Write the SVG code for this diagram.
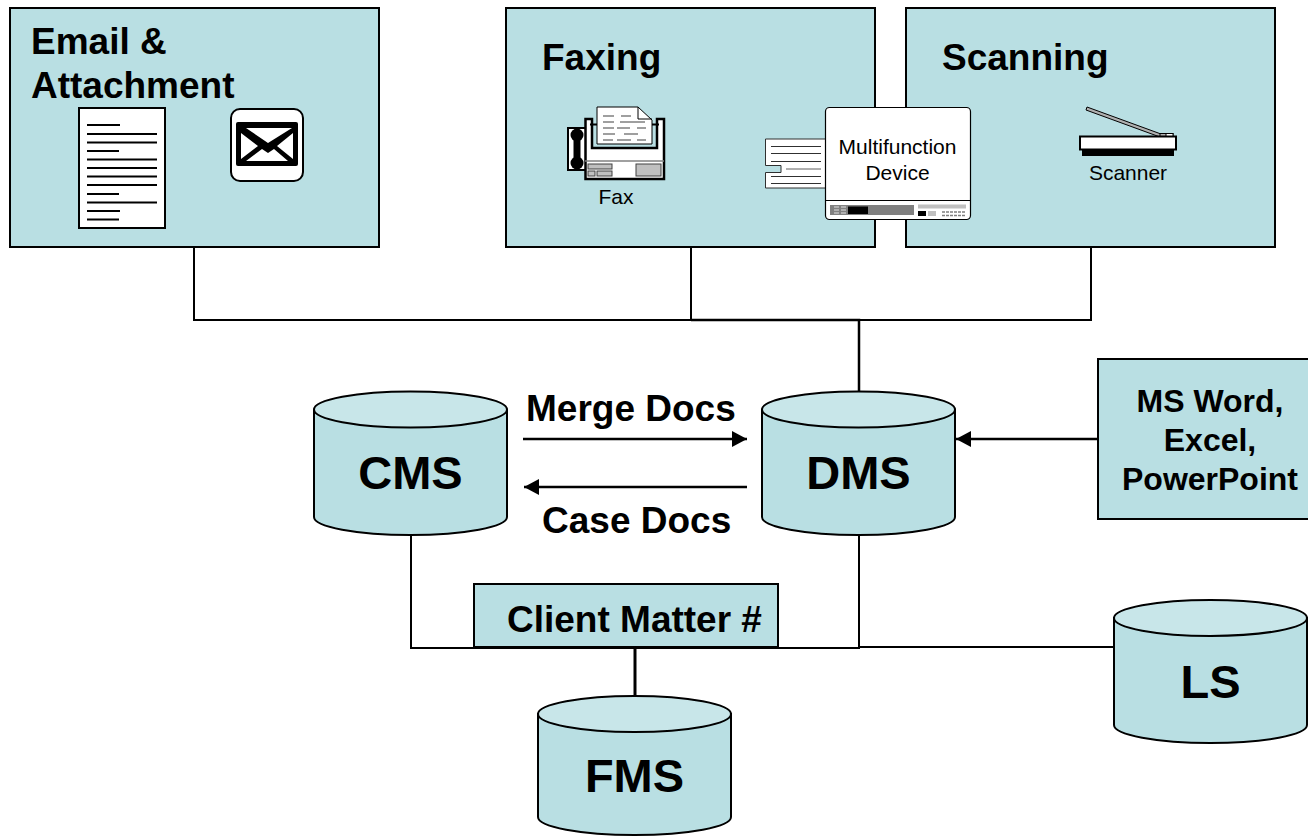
<svg xmlns="http://www.w3.org/2000/svg" width="1308" height="837" viewBox="0 0 1308 837">
<style>
text{font-family:"Liberation Sans",Arial,sans-serif;fill:#000}
.b{font-weight:bold;font-size:37px}
.c{font-weight:bold;font-size:47px;text-anchor:middle}
.m{font-weight:bold;font-size:32px;text-anchor:middle}
.s{font-size:21px;text-anchor:middle}
.box{fill:#b9dfe3;stroke:#000;stroke-width:2}
.top{fill:#c8e6e9;stroke:#000;stroke-width:2}
.ln{fill:none;stroke:#000;stroke-width:2}
.h{fill:none;stroke:#000;stroke-width:3}
.g{fill:none;stroke:#808080;stroke-width:1.5}
.w{fill:#fff;stroke:#000;stroke-width:2}
</style>
<defs>
<marker id="ah" markerUnits="userSpaceOnUse" markerWidth="16" markerHeight="16" refX="15" refY="8" orient="auto"><path d="M0 0L15 8L0 16z" fill="#000"/></marker>
</defs>
<g id="connectors">
<path class="ln" d="M194 247V320H1091V247M691 247V320"/>
<path class="h" d="M691 320H859V392" style="stroke-width:2.5"/>
<path class="ln" d="M411 534V648H859V534M859 647H1115"/>
<path class="h" d="M635 648V696"/>
<path class="ln" style="stroke-width:2.5" d="M523 439H747" marker-end="url(#ah)"/>
<path class="ln" style="stroke-width:2.5" d="M747 487H524" marker-end="url(#ah)"/>
<path class="ln" style="stroke-width:2.5" d="M1098 439H956" marker-end="url(#ah)"/>
</g>
<g id="email">
<rect class="box" x="10" y="8" width="369" height="239"/>
<text class="b" x="31" y="54">Email &amp;</text>
<text class="b" x="31" y="98">Attachment</text>
<rect class="w" x="79" y="108" width="86" height="120"/>
<path d="M87 125h33M87 134h70M87 142.500h70M87 151h32M87 159.500h70M87 168h70M87 176.500h70M87 185h70M87 194h32M87 202.500h70M87 211h33M87 219.500h32" fill="none" stroke="#000" stroke-width="2"/>
<rect x="231" y="109" width="72" height="72" rx="9" fill="#fff" stroke="#000" stroke-width="2"/>
<rect x="236" y="122" width="62" height="44" rx="2" fill="#000"/>
<path d="M246 128H292L268 143zM241 133L258 146L241 159zM293 133L277 146L293 159zM246 161L262 149L268 153L274 149L288 161z" fill="#fff"/>
</g>
<g id="faxing">
<rect class="box" x="506" y="8" width="369" height="239"/>
<text class="b" x="542" y="70">Faxing</text>
<g id="fax-icon">
<rect x="568" y="128" width="18" height="42" fill="#fff" stroke="#000" stroke-width="2"/>
<path d="M577 134V162" stroke="#000" stroke-width="7"/>
<circle cx="577" cy="135" r="6.500" fill="#000"/>
<circle cx="577" cy="163" r="6.500" fill="#000"/>
<path d="M585.500 119H592V148H657V119H664V179H585.500z" fill="#fff" stroke="#000" stroke-width="2.500"/>
<path d="M590 124.500H659" stroke="#000" stroke-width="2"/>
<path d="M585 161H664" stroke="#808080" stroke-width="1.500"/>
<path d="M597 107H638L652 120V144H597z" fill="#fff" stroke="#000" stroke-width="1"/>
<path d="M638 107V119H652" fill="none" stroke="#000" stroke-width="1"/>
<path class="g" d="M603 116h11M621 116h10M603 122h11M620 122h25M603 128h11M617 128h13M637 128h9M603 134h12M624 134h14M603 140h10M617 140h14M637 140h9"/>
<rect x="588" y="164" width="24" height="5" fill="#c0c0c0" stroke="#404040" stroke-width="1"/>
<rect x="588" y="171" width="7" height="5" fill="#c0c0c0" stroke="#404040" stroke-width="1"/>
<rect x="597" y="171" width="15" height="5" fill="#c0c0c0" stroke="#404040" stroke-width="1"/>
<rect x="636" y="164" width="25" height="12" fill="#c0c0c0" stroke="#404040" stroke-width="1"/>
</g>
<text class="s" x="616" y="204">Fax</text>
</g>
<g id="scanning">
<rect class="box" x="906" y="8" width="369" height="239"/>
<text class="b" x="942" y="70">Scanning</text>
<g id="scanner-icon">
<path d="M1087 107L1161 134L1160 137L1086 110z" fill="#b0b0b0" stroke="#000" stroke-width="1"/>
<rect x="1160" y="133.500" width="13" height="4" fill="#b0b0b0" stroke="#000" stroke-width="1"/>
<rect x="1166" y="133.500" width="7" height="4" fill="#fff" stroke="#000" stroke-width="1"/>
<rect x="1082" y="149" width="92" height="7" fill="#000"/>
<rect class="w" x="1080" y="136.500" width="96" height="13"/>
</g>
<text class="s" x="1128" y="180">Scanner</text>
</g>
<g id="multifunction">
<path d="M765.500 139H826V188H765.500V172.500H781V165.500H765.500z" fill="#fff" stroke="#303030" stroke-width="1"/>
<path d="M771 146.500H821M771 153.500H821M771 161.500H821M771 176.500H821M771 183.500H821" fill="none" stroke="#303030" stroke-width="1"/>
<path d="M786 169H821" stroke="#606060" stroke-width="1"/>
<rect x="825.500" y="107.500" width="145" height="112" rx="4" fill="#fff" stroke="#000" stroke-width="1.200"/>
<path d="M825.500 200.500H970.500" stroke="#000" stroke-width="1"/>
<rect x="830" y="205" width="84" height="10" fill="#808080"/>
<rect x="848" y="206.500" width="20" height="7.500" fill="#000"/>
<path d="M834 207h5M841 207h5M834 210h5M841 210h5M834 213h5M841 213h5" stroke="#c0c0c0" stroke-width="1.500"/>
<rect x="918" y="204.500" width="48" height="4" fill="#c0c0c0"/>
<rect x="918" y="211" width="8" height="5" fill="#000"/>
<rect x="928" y="211" width="8" height="5" fill="#c0c0c0"/>
<path d="M942 212h24M942 215.500h24" stroke="#808080" stroke-width="1.500" stroke-dasharray="3 1"/>
<text class="s" x="897.500" y="154">Multifunction</text>
<text class="s" x="897.500" y="180">Device</text>
</g>
<g id="word">
<rect class="box" x="1098" y="359" width="212" height="160"/>
<text class="m" x="1210" y="412">MS Word,</text>
<text class="m" x="1210" y="451">Excel,</text>
<text class="m" x="1210" y="490">PowerPoint</text>
</g>
<g id="cms">
<path class="box" d="M314 409.500V517C314 527 357 535 410.500 535S507 527 507 517V409.500z"/>
<ellipse class="top" cx="410.500" cy="409.500" rx="96.500" ry="18"/>
<text class="c" x="410.500" y="489">CMS</text>
</g>
<g id="dms">
<path class="box" d="M762 409.500V517C762 527 805 535 858.500 535S955 527 955 517V409.500z"/>
<ellipse class="top" cx="858.500" cy="409.500" rx="96.500" ry="18"/>
<text class="c" x="858.500" y="489">DMS</text>
</g>
<g id="ls">
<path class="box" d="M1114 618V725C1114 735 1157 743 1210.500 743S1307 735 1307 725V618z"/>
<ellipse class="top" cx="1210.500" cy="618" rx="96.500" ry="18"/>
<text class="c" x="1210.500" y="698">LS</text>
</g>
<g id="fms">
<path class="box" d="M538 714V817C538 827 581 835 634.500 835S731 827 731 817V714z"/>
<ellipse class="top" cx="634.500" cy="714" rx="96.500" ry="18"/>
<text class="c" x="634.500" y="792">FMS</text>
</g>
<text class="b" x="526" y="421">Merge Docs</text>
<text class="b" x="542" y="533">Case Docs</text>
<g id="client-matter">
<rect class="box" x="474" y="584" width="304" height="63"/>
<text class="b" x="507" y="632">Client Matter #</text>
</g>
</svg>
